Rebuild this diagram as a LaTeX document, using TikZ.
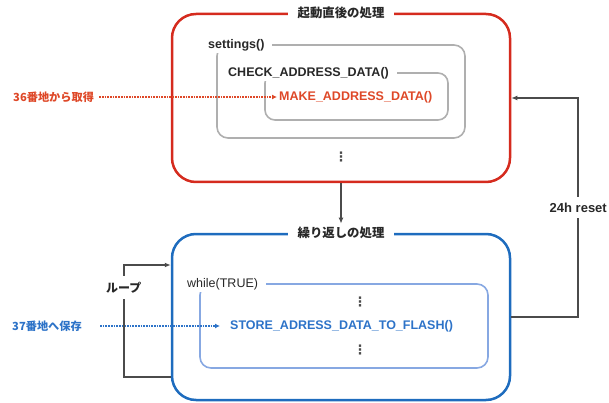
\documentclass[tikz,border=0pt]{standalone}
\usepackage{fontspec}
\setmainfont{Liberation Sans}
\newfontfamily\jpfont{Noto Sans CJK JP}
\newfontfamily\symfont{DejaVu Sans}
\usetikzlibrary{arrows.meta}
\definecolor{boxRed}{RGB}{213, 43, 30}
\definecolor{textRed}{RGB}{222, 72, 40}
\definecolor{boxBlue}{RGB}{30, 108, 190}
\definecolor{lineBlue}{RGB}{135, 168, 226}
\definecolor{textBlue}{RGB}{45, 115, 200}
\definecolor{frameGray}{RGB}{175, 175, 175}
\definecolor{lineDark}{RGB}{75, 75, 75}
\definecolor{textDark}{RGB}{40, 40, 40}

\begin{document}
\begin{tikzpicture}[x=1pt, y=-1pt,
    procbox/.style={draw, line width=2.5pt, rounded corners=24pt, minimum width=338pt},
    framebox/.style={draw, line width=1.6pt, rounded corners=11pt},
    boxtitle/.style={fill=white, inner xsep=10pt, inner ysep=3pt, text=textDark,
      font=\jpfont\bfseries\fontsize{12.4}{14}\selectfont},
    codelabel/.style={fill=white, anchor=west, inner xsep=8pt, inner ysep=2pt, text=textDark,
      font=\bfseries\fontsize{12.5}{14}\selectfont},
    sidelabel/.style={anchor=west, inner sep=2pt, font=\jpfont\bfseries\fontsize{11.2}{14}\selectfont},
    dotsmark/.style={inner sep=0pt, text=lineDark, font=\symfont\bfseries\fontsize{13}{14}\selectfont},
    flowline/.style={draw=lineDark, line width=2pt, -{Latex[length=6pt,width=5pt]}},
    dotarrow/.style={densely dotted, line width=1.7pt, -{Latex[length=5pt,width=5pt]}}]
  \useasboundingbox (0,0) rectangle (609,403);

  % startup block
  \node[procbox, draw=boxRed, minimum height=168pt] (init) at (341,98) {};
  \node[framebox, draw=frameGray, minimum width=248pt, minimum height=93pt] (settingsBox) at (341,91.5) {};
  \node[framebox, draw=frameGray, minimum width=183pt, minimum height=47pt, rounded corners=10pt] (checkBox) at (356.5,96.5) {};
  \node[boxtitle] (initTitle) at (init.north) {起動直後の処理};
  \node[codelabel] (settingsLabel) at (200,45) {settings()};
  \node[codelabel] (checkLabel) at (220,73) {CHECK\_ADDRESS\_DATA()};
  \node[codelabel, fill=none, inner xsep=2pt, text=textRed] (makeData) at (277,97) {MAKE\_ADDRESS\_DATA()};
  \node[dotsmark] (initDots) at (341,157) {⋮};

  % loop block
  \node[procbox, draw=boxBlue, minimum height=166pt] (loop) at (341,317) {};
  \node[framebox, draw=lineBlue, minimum width=288pt, minimum height=84pt] (whileBox) at (344,326) {};
  \node[boxtitle] (loopTitle) at (loop.north) {繰り返しの処理};
  \node[codelabel, font=\fontsize{12.5}{14}\selectfont] (whileLabel) at (179,284) {while(TRUE)};
  \node[dotsmark] (whileDotsA) at (360,302) {⋮};
  \node[codelabel, fill=none, inner xsep=2pt, text=textBlue] (storeData) at (228,326) {STORE\_ADRESS\_DATA\_TO\_FLASH()};
  \node[dotsmark] (whileDotsB) at (360,350) {⋮};

  % address labels
  \node[sidelabel, text=textRed] (getLabel) at (11,97) {36番地から取得};
  \node[sidelabel, text=textBlue] (putLabel) at (10,326) {37番地へ保存};
  \draw[dotarrow, textRed, shorten <=3pt] (getLabel.east) -- (getLabel.east -| makeData.west);
  \draw[dotarrow, textBlue, shorten <=16pt, shorten >=8pt] (putLabel.east) -- (putLabel.east -| storeData.west);

  % flow between blocks
  \draw[flowline] (init.south) -- (loopTitle.north);
  \coordinate (loopOut) at (loop.west |- 0,377);
  \coordinate (loopIn) at (loop.west |- 0,265);
  \draw[flowline] (loopOut) -- ++(-47,0) |- node[pos=0.4, fill=white, inner xsep=2pt, inner ysep=6pt, text=textDark,
      font=\jpfont\bfseries\fontsize{12}{14}\selectfont] (loopLabel) {ループ} (loopIn);
  \draw[flowline] (loop.east) -- ++(67,0) |- node[pos=0.25, fill=white, inner xsep=1pt, inner ysep=6pt, text=textDark,
      font=\bfseries\fontsize{13}{15}\selectfont] (resetLabel) {24h reset} (init.east);
\end{tikzpicture}
\end{document}
